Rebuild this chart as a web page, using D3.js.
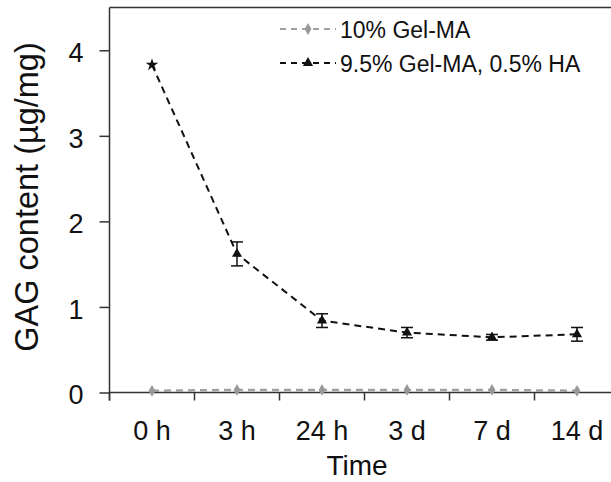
<!DOCTYPE html>
<html>
<head>
<meta charset="utf-8">
<script src="https://cdn.jsdelivr.net/npm/d3@7"></script>
<style>
  html, body { margin: 0; padding: 0; background: #fff; }
  svg { display: block; font-family: "Liberation Sans", Arial, sans-serif; }
</style>
</head>
<body>
<svg id="chart" width="611" height="482"></svg>
<script>
const categories = ["0 h", "3 h", "24 h", "3 d", "7 d", "14 d"];
const gelma = [0.02, 0.03, 0.03, 0.03, 0.03, 0.02];
const gelmaHA = [3.83, 1.62, 0.84, 0.70, 0.645, 0.68];
const gelmaHAErr = [0, 0.14, 0.08, 0.06, 0.033, 0.08];
const yTicks = [0, 1, 2, 3, 4];
const seriesNames = ["10% Gel-MA", "9.5% Gel-MA, 0.5% HA"];
const axisTitles = { x: "Time", y: "GAG content (\u00b5g/mg)" };

const svg = d3.select("#chart");
const mLeft = 109.5, mTop = 7.5, mBottom = 392.5, bandW = 85;

const x = d3.scaleBand().domain(categories)
  .range([mLeft, mLeft + bandW * categories.length]).paddingInner(0).paddingOuter(0);
const y = d3.scaleLinear().domain([0, 4.5]).range([mBottom, mTop]);
const cx = c => x(c) + x.bandwidth() / 2;

// frame top line
svg.append("line").attr("x1", mLeft).attr("x2", 611).attr("y1", mTop).attr("y2", mTop)
  .attr("stroke", "#333").attr("stroke-width", 1.5);

// y axis
const yAxis = svg.append("g").attr("transform", `translate(${mLeft},0)`)
  .call(d3.axisLeft(y).tickValues(yTicks).tickSize(10).tickPadding(16).tickFormat(d3.format("d")));
yAxis.select(".domain").remove();
yAxis.append("line").attr("x1", 0).attr("x2", 0).attr("y1", mTop).attr("y2", mBottom + 8)
  .attr("stroke", "#333").attr("stroke-width", 1.5);
yAxis.selectAll(".tick line").attr("stroke", "#333").attr("stroke-width", 1.5);
yAxis.selectAll(".tick text").attr("font-size", 27).attr("fill", "#111").attr("dy", "0.42em");

// x axis
const xAxis = svg.append("g").attr("transform", `translate(0,${mBottom})`);
xAxis.append("line").attr("x1", mLeft).attr("x2", 611).attr("y1", 0).attr("y2", 0)
  .attr("stroke", "#333").attr("stroke-width", 1.5);
xAxis.selectAll("line.tk").data(categories).join("line").attr("class", "tk")
  .attr("x1", d => x(d)).attr("x2", d => x(d)).attr("y1", 0).attr("y2", 8)
  .attr("stroke", "#333").attr("stroke-width", 1.5);
xAxis.selectAll("text.lbl").data(categories).join("text").attr("class", "lbl")
  .attr("x", d => cx(d)).attr("y", 47).attr("text-anchor", "middle")
  .attr("font-size", 27).attr("fill", "#111").text(d => d);

// axis titles
svg.append("text").attr("x", 357).attr("y", 475).attr("text-anchor", "middle")
  .attr("font-size", 28).attr("fill", "#111").text(axisTitles.x);
svg.append("text").attr("transform", "translate(38,197) rotate(-90)").attr("text-anchor", "middle")
  .attr("font-size", 32.5).attr("fill", "#111").text(axisTitles.y);

// gray series
const line = d3.line().x((d, i) => cx(categories[i])).y(d => y(d));
svg.append("path").datum(gelma).attr("d", line).attr("fill", "none")
  .attr("stroke", "#a0a0a0").attr("stroke-width", 2.5).attr("stroke-dasharray", "7,5");
const diamond = d3.symbol().type(d3.symbolDiamond).size(40);
svg.selectAll("path.gm").data(gelma).join("path").attr("class", "gm")
  .attr("transform", (d, i) => `translate(${cx(categories[i])},${y(d)})`)
  .attr("d", diamond).attr("fill", "#999");

// black series
svg.append("path").datum(gelmaHA).attr("d", line).attr("fill", "none")
  .attr("stroke", "#111").attr("stroke-width", 2).attr("stroke-dasharray", "7,5");
// error bars
const eb = svg.selectAll("g.eb").data(gelmaHA.map((v, i) => ({ v, e: gelmaHAErr[i], c: categories[i] })).filter(d => d.e > 0))
  .join("g").attr("class", "eb");
eb.append("line").attr("x1", d => cx(d.c)).attr("x2", d => cx(d.c))
  .attr("y1", d => y(d.v + d.e)).attr("y2", d => y(d.v - d.e)).attr("stroke", "#111").attr("stroke-width", 1.5);
eb.append("line").attr("x1", d => cx(d.c) - 6).attr("x2", d => cx(d.c) + 6)
  .attr("y1", d => y(d.v + d.e)).attr("y2", d => y(d.v + d.e)).attr("stroke", "#111").attr("stroke-width", 1.5);
eb.append("line").attr("x1", d => cx(d.c) - 6).attr("x2", d => cx(d.c) + 6)
  .attr("y1", d => y(d.v - d.e)).attr("y2", d => y(d.v - d.e)).attr("stroke", "#111").attr("stroke-width", 1.5);
const tri = d3.symbol().type(d3.symbolTriangle).size(45);
const star = d3.symbol().type(d3.symbolStar).size(50);
svg.selectAll("path.hm").data(gelmaHA).join("path").attr("class", "hm")
  .attr("transform", (d, i) => `translate(${cx(categories[i])},${y(d)})`)
  .attr("d", (d, i) => i === 0 ? star() : tri()).attr("fill", "#111");

// legend
const legend = svg.append("g");
const legRows = [
  { name: seriesNames[0], color: "#a0a0a0", sym: diamond, fill: "#999", y: 29 },
  { name: seriesNames[1], color: "#111", sym: tri, fill: "#111", y: 63 }
];
legRows.forEach(r => {
  legend.append("line").attr("x1", 280).attr("x2", 336).attr("y1", r.y).attr("y2", r.y)
    .attr("stroke", r.color).attr("stroke-width", 2).attr("stroke-dasharray", "6,5");
  legend.append("path").attr("transform", `translate(308,${r.y})`).attr("d", r.sym).attr("fill", r.fill);
  legend.append("text").attr("x", 340).attr("y", r.y + 9).attr("font-size", 23).attr("fill", "#111").text(r.name);
});
</script>
</body>
</html>
